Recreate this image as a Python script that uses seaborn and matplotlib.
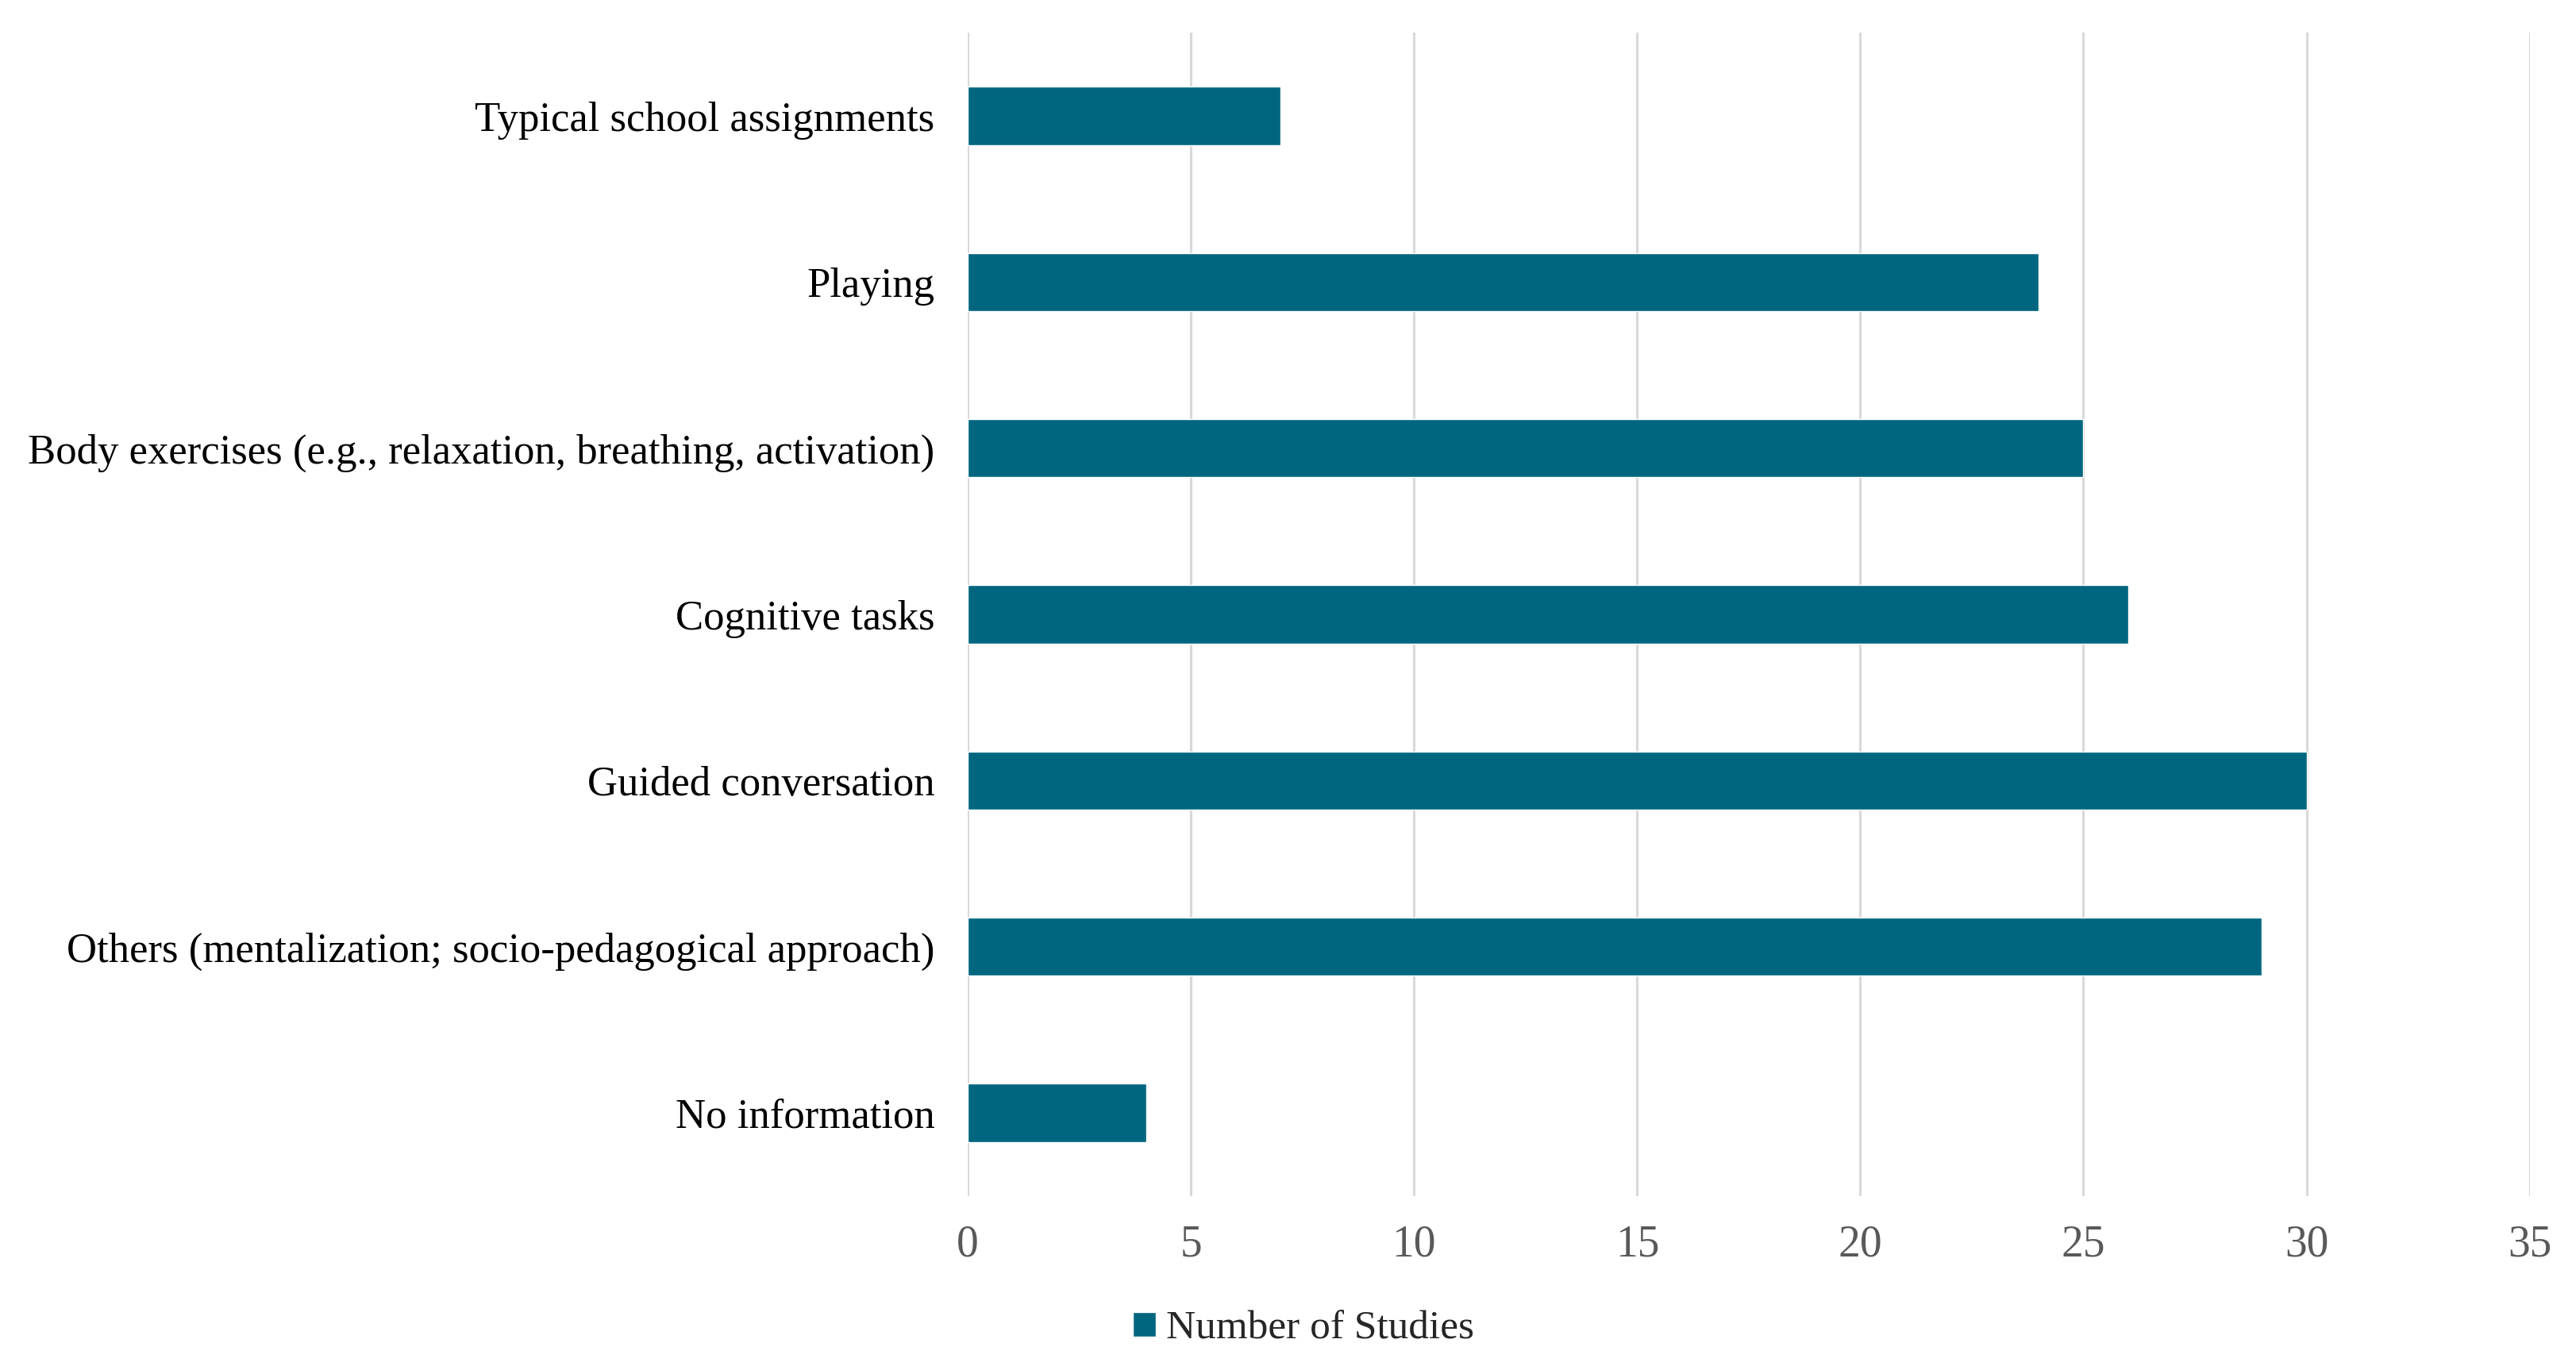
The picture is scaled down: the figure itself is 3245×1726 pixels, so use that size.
import pandas as pd
import numpy as np
import matplotlib.pyplot as plt
import seaborn as sns

categories = [
    'Typical school assignments',
    'Playing',
    'Body exercises (e.g., relaxation, breathing, activation)',
    'Cognitive tasks',
    'Guided conversation',
    'Others (mentalization; socio-pedagogical approach)',
    'No information',
]
studies = [7, 24, 25, 26, 30, 29, 4]
x_ticks = [0, 5, 10, 15, 20, 25, 30, 35]

df = pd.DataFrame({'category': categories, 'studies': studies})

sns.set_theme(style='white')
plt.rcParams['font.family'] = ['Liberation Serif', 'DejaVu Serif']

fig = plt.figure(figsize=(32.45, 17.26), dpi=100)
ax = fig.add_axes([0.3757, 0.127, 0.6063, 0.849])

sns.barplot(data=df, x='studies', y='category', orient='h', color='#00667f',
            saturation=1, width=0.35, label='Number of Studies', ax=ax, zorder=3)

ax.set_xlim(0, 35)
ax.set_xticks(x_ticks)
ax.set_xlabel('')
ax.set_ylabel('')
ax.grid(axis='x', color='#d9d9d9', linewidth=2.2, zorder=0)
ax.grid(axis='y', visible=False)
for s in ax.spines.values():
    s.set_visible(False)

ax.tick_params(axis='y', labelsize=38, labelcolor='black', length=0, pad=30)
ax.tick_params(axis='x', labelsize=40, labelcolor='#595959', length=0, pad=26)

leg = ax.legend(loc='center', bbox_to_anchor=(0.506, 0.030), bbox_transform=fig.transFigure,
                frameon=False, fontsize=37, handlelength=0.55, handleheight=0.55,
                handletextpad=0.25)

fig.savefig('out.png', dpi=100)
